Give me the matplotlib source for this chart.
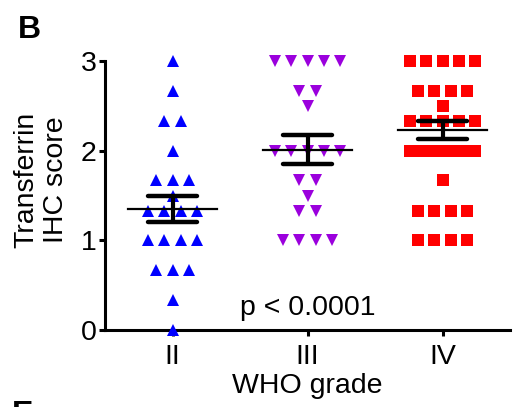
import numpy as np
import matplotlib
matplotlib.use("Agg")
import matplotlib.pyplot as plt

plt.rcParams["font.family"] = ["Liberation Sans", "DejaVu Sans"]

# WHO grade groups and their IHC scores
grades = ["II", "III", "IV"]
scores_ii = [3.0, 2.67, 2.33, 2.33, 2.0, 1.67, 1.67, 1.67, 1.5,
             1.33, 1.33, 1.33, 1.33, 1.0, 1.0, 1.0, 1.0,
             0.67, 0.67, 0.67, 0.33, 0.0]
scores_iii = [3.0, 3.0, 3.0, 3.0, 3.0, 2.67, 2.67, 2.5,
              2.0, 2.0, 2.0, 2.0, 2.0, 1.67, 1.67, 1.5, 1.33, 1.33,
              1.0, 1.0, 1.0, 1.0]
scores_iv = [3.0, 3.0, 3.0, 3.0, 3.0, 2.67, 2.67, 2.67, 2.67, 2.5,
             2.33, 2.33, 2.33, 2.33, 2.33,
             2.0, 2.0, 2.0, 2.0, 2.0, 2.0, 2.0, 2.0, 2.0, 2.0,
             1.67, 1.33, 1.33, 1.33, 1.33, 1.0, 1.0, 1.0, 1.0]
# mean and SEM as plotted
means = [1.35, 2.01, 2.23]
sems = [0.15, 0.16, 0.10]
p_text = "p < 0.0001"

groups = [scores_ii, scores_iii, scores_iv]
markers = ["^", "v", "s"]
colors = ["#0000FF", "#9B00DD", "#FF0000"]
sizes = [8.5, 8.5, 8.0]
FS = 20.5

fig = plt.figure(figsize=(5.23, 4.07), dpi=100)
ax = fig.add_axes([105 / 523, 1 - 330 / 407, 405 / 523, 269 / 407])


def swarm_offsets(vals, step=0.12, max_width=0.48):
    # spread points with equal score side by side, compress wide rows
    vals = np.asarray(vals)
    offs = np.zeros(len(vals))
    for v in np.unique(vals):
        idx = np.where(vals == v)[0]
        n = len(idx)
        if n > 1:
            sp = min(step, max_width / (n - 1))
            offs[idx] = (np.arange(n) - (n - 1) / 2) * sp
    return offs


for i, vals in enumerate(groups):
    xs = i + swarm_offsets(vals)
    ax.plot(xs, vals, linestyle="none", marker=markers[i], color=colors[i],
            ms=sizes[i], mew=0, clip_on=False, zorder=3)
    m, s = means[i], sems[i]
    ax.plot([i - 0.33, i + 0.33], [m, m], color="black", lw=1.6, zorder=4,
            clip_on=False)
    ax.plot([i, i], [m - s, m + s], color="black", lw=3, zorder=4,
            solid_capstyle="butt")
    for y in (m - s, m + s):
        ax.plot([i - 0.18, i + 0.18], [y, y], color="black", lw=3.2,
                solid_capstyle="round", zorder=4)

ax.text(1, 0.25, p_text, ha="center", va="center", fontsize=FS)

ax.set_xlim(-0.5, 2.5)
ax.set_ylim(0, 3)
ax.set_yticks([0, 1, 2, 3])
ax.set_xticks(range(len(grades)))
ax.set_xticklabels(grades)
ax.tick_params(axis="both", labelsize=FS, width=2.2, length=4, direction="out")
ax.tick_params(axis="y", pad=2)
ax.tick_params(axis="x", pad=6)
for side in ("top", "right"):
    ax.spines[side].set_visible(False)
for side in ("left", "bottom"):
    ax.spines[side].set_linewidth(2.2)

ax.set_xlabel("WHO grade", fontsize=FS, labelpad=2)
fig.text(41 / 523, 1 - 180 / 407, "Transferrin\nIHC score", rotation=90,
         ha="center", va="center", fontsize=FS, linespacing=1.2)

fig.text(18 / 523, 1 - 38 / 407, "B", fontsize=23, fontweight="bold",
         ha="left", va="baseline")
fig.text(12 / 523, 1 - 423 / 407, "E", fontsize=23, fontweight="bold",
         ha="left", va="baseline")

fig.savefig("out.png", dpi=100)
